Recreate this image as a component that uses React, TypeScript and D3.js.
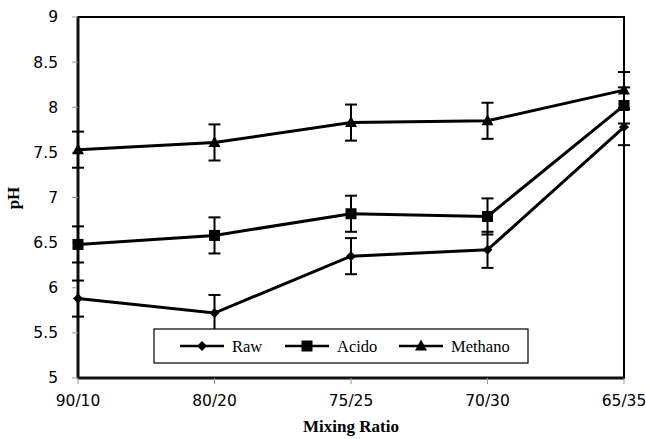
import React from 'react';
import * as d3 from 'd3';

const categories = ['90/10', '80/20', '75/25', '70/30', '65/35'];
const rawValues = [5.88, 5.72, 6.35, 6.42, 7.78];
const acidoValues = [6.48, 6.58, 6.82, 6.79, 8.02];
const methanoValues = [7.53, 7.61, 7.83, 7.85, 8.19];
const rawErr = [0.2, 0.2, 0.2, 0.2, 0.2];
const acidoErr = [0.2, 0.2, 0.2, 0.2, 0.2];
const methanoErr = [0.2, 0.2, 0.2, 0.2, 0.2];
const yTicks = [5, 5.5, 6, 6.5, 7, 7.5, 8, 8.5, 9];

const series = [
  { name: 'Raw', values: rawValues, err: rawErr, marker: 'diamond' },
  { name: 'Acido', values: acidoValues, err: acidoErr, marker: 'square' },
  { name: 'Methano', values: methanoValues, err: methanoErr, marker: 'triangle' },
];

function Marker({ type, x, y }: { type: string; x: number; y: number }) {
  if (type === 'diamond') {
    return <path d={`M${x},${y - 5}L${x + 5},${y}L${x},${y + 5}L${x - 5},${y}Z`} fill="#000" />;
  }
  if (type === 'square') {
    return <rect x={x - 5.5} y={y - 5.5} width={11} height={11} fill="#000" />;
  }
  return <path d={`M${x},${y - 6.5}L${x + 6},${y + 4.5}L${x - 6},${y + 4.5}Z`} fill="#000" />;
}

export default function App() {
  const width = 646;
  const height = 439;
  const margin = { top: 17, left: 78, right: 22, bottom: 61 };
  const iwidth = width - margin.left - margin.right;
  const iheight = height - margin.top - margin.bottom;

  const x = d3.scalePoint().domain(categories).range([0, iwidth]);
  const y = d3.scaleLinear().domain([5, 9]).range([iheight, 0]);
  const line = d3.line<number>()
    .x((d, i) => x(categories[i]) as number)
    .y(d => y(d));

  const tickFont = '"DejaVu Sans", Verdana, sans-serif';
  const serif = '"Liberation Serif", "Times New Roman", serif';

  return (
    <svg width={width} height={height} style={{ position: 'absolute', left: 0, top: 0, background: '#fff' }}>
      <g transform={`translate(${margin.left},${margin.top})`}>
        {/* frame */}
        <rect x={0} y={0} width={iwidth} height={iheight} fill="none" stroke="#000" strokeWidth={2} />
        <line x1={0} x2={0} y1={0} y2={iheight} stroke="#111" strokeWidth={3} />
        <line x1={0} x2={iwidth} y1={iheight} y2={iheight} stroke="#111" strokeWidth={3} />

        {yTicks.map(t => (
          <g key={t} transform={`translate(0,${y(t)})`}>
            <line x1={-6} x2={0} stroke="#999" strokeWidth={1} />
            <text x={-20} dy="0.35em" textAnchor="end" fontFamily={tickFont} fontSize={15.5} fill="#000">{t}</text>
          </g>
        ))}
        {categories.map(c => (
          <g key={c} transform={`translate(${x(c)},${iheight})`}>
            <line y1={0} y2={6} stroke="#999" strokeWidth={1} />
            <text y={28} textAnchor="middle" fontFamily={tickFont} fontSize={15.5} fill="#000">{c}</text>
          </g>
        ))}

        {series.map(s => (
          <g key={s.name}>
            {s.values.map((v, i) => {
              const cx = x(categories[i]) as number;
              const top = y(v + s.err[i]);
              const bot = y(v - s.err[i]);
              return (
                <g key={i} stroke="#000" strokeWidth={2}>
                  <line x1={cx} x2={cx} y1={top} y2={bot} />
                  <line x1={cx - 6} x2={cx + 6} y1={top} y2={top} />
                  <line x1={cx - 6} x2={cx + 6} y1={bot} y2={bot} />
                </g>
              );
            })}
            <path d={line(s.values) || ''} fill="none" stroke="#000" strokeWidth={3} />
            {s.values.map((v, i) => (
              <Marker key={i} type={s.marker} x={x(categories[i]) as number} y={y(v)} />
            ))}
          </g>
        ))}
      </g>

      {/* legend */}
      <rect x={154} y={329} width={374} height={34} fill="#fff" stroke="#000" strokeWidth={1.2} />
      {series.map((s, i) => {
        const lx = [180, 285, 399][i];
        const ly = 346;
        return (
          <g key={s.name}>
            <line x1={lx} x2={lx + 44} y1={ly} y2={ly} stroke="#000" strokeWidth={2.5} />
            <Marker type={s.marker} x={lx + 22} y={ly} />
            <text x={lx + 52} y={ly} dy="0.35em" fontFamily={serif} fontSize={16.5} fill="#000">{s.name}</text>
          </g>
        );
      })}

      <text x={351} y={432} textAnchor="middle" fontFamily={serif} fontWeight="bold" fontSize={17} fill="#000">Mixing Ratio</text>
      <text transform="translate(19,198) rotate(-90)" textAnchor="middle" fontFamily={serif} fontWeight="bold" fontSize={17} fill="#000">pH</text>
    </svg>
  );
}
